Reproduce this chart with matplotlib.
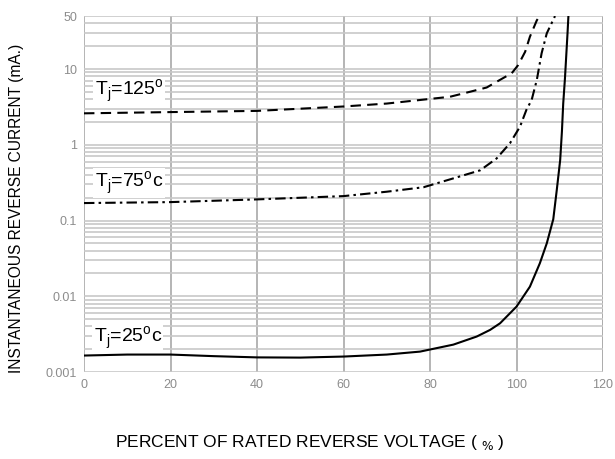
#!/usr/bin/env python3

import matplotlib
matplotlib.use('Agg')
import matplotlib.pyplot as plt
from matplotlib.ticker import LogLocator, FixedLocator, NullFormatter

plt.rcParams['font.family'] = ['Liberation Sans', 'DejaVu Sans']

x_125 = [0, 20, 40, 60, 70, 77.7, 84.6, 89.2, 93.1, 96.2, 98.9, 100.4, 102.0, 103.1, 104.7, 105.4]
i_125 = [2.6, 2.7, 2.8, 3.2, 3.5, 3.9, 4.3, 5.0, 5.7, 7.2, 8.8, 11.3, 16.9, 26.7, 44, 50]

x_75 = [0, 20, 40, 60, 70, 78.5, 85.4, 91.6, 95.4, 98.5, 100.8, 102.3, 103.5, 104.7, 105.8,
        107.0, 108.9]
i_75 = [0.17, 0.175, 0.19, 0.21, 0.24, 0.275, 0.36, 0.46, 0.66, 1.05, 1.73, 2.9, 3.9, 7.2, 16.1,
        29.6, 50]

x_25 = [0, 10, 20, 30, 40, 50, 60, 70, 77.7, 85.4, 90.8, 93.9, 96.2, 100, 103.1, 105.4, 107.0,
        108.5, 109.3, 110.1, 110.5, 110.8, 111.2, 111.5, 111.8, 112]
i_25 = [0.00165, 0.0017, 0.0017, 0.00162, 0.00156, 0.00155, 0.0016, 0.0017, 0.00186, 0.0023,
        0.00294, 0.0036, 0.0044, 0.0073, 0.0134, 0.0273, 0.050, 0.104, 0.25, 0.63, 1.5, 3.5,
        7.5, 15, 30, 50]

labels = ['T$_\\mathregular{j}$=125$^\\mathregular{o}$',
          'T$_\\mathregular{j}$=75$^\\mathregular{o}$c',
          'T$_\\mathregular{j}$=25$^\\mathregular{o}$c']
label_x = [2.5, 2.5, 2.2]
label_y = [5.0, 0.31, 0.00282]

x_ticks = [0, 20, 40, 60, 80, 100, 120]
y_ticks = [0.001, 0.01, 0.1, 1, 10, 50]
y_tick_labels = ['0.001', '0.01', '0.1', '1', '10', '50']

fig = plt.figure(figsize=(6.15, 4.59), dpi=100)
ax = fig.add_axes([0.1366, 0.1895, 0.8439, 0.7755])

ax.plot(x_125, i_125, color='black', lw=1.5, linestyle=(0, (5, 3)))
ax.plot(x_75, i_75, color='black', lw=1.5, linestyle=(0, (5, 2, 1.2, 2)))
ax.plot(x_25, i_25, color='black', lw=1.5, linestyle='-')

ax.set_yscale('log')
ax.set_xlim(0, 120)
ax.set_ylim(0.001, 50)

ax.xaxis.set_major_locator(FixedLocator(x_ticks))
ax.set_xticklabels([str(v) for v in x_ticks])
ax.yaxis.set_major_locator(FixedLocator(y_ticks))
ax.set_yticklabels(y_tick_labels)
ax.yaxis.set_minor_locator(LogLocator(base=10, subs=range(2, 10)))
ax.yaxis.set_minor_formatter(NullFormatter())

ax.tick_params(which='both', length=0, labelsize=9, labelcolor='#8c8c8c', pad=5)

ax.grid(True, axis='x', which='major', color='#a8a8a8', lw=1.2)
ax.grid(True, axis='y', which='both', color='#c8c8c8', lw=1.2)
ax.set_axisbelow(True)

for s in ['top', 'bottom', 'left', 'right']:
    ax.spines[s].set_visible(False)
ax.axvline(120, color='#c0c0c0', lw=1.2, zorder=0.5)

for t, lx, ly in zip(labels, label_x, label_y):
    ax.text(lx, ly, t, fontsize=14, ha='left', va='center',
            bbox=dict(facecolor='white', edgecolor='none', pad=1.0))

fig.text(0.027, 0.545, 'INSTANTANEOUS REVERSE CURRENT (mA.)', rotation=90,
         ha='center', va='center', fontsize=11.2)
fig.text(0.504, 0.035, 'PERCENT OF RATED REVERSE VOLTAGE ( $_{\\%}$ )',
         ha='center', va='center', fontsize=12.5)

fig.savefig('out.png', dpi=100)
